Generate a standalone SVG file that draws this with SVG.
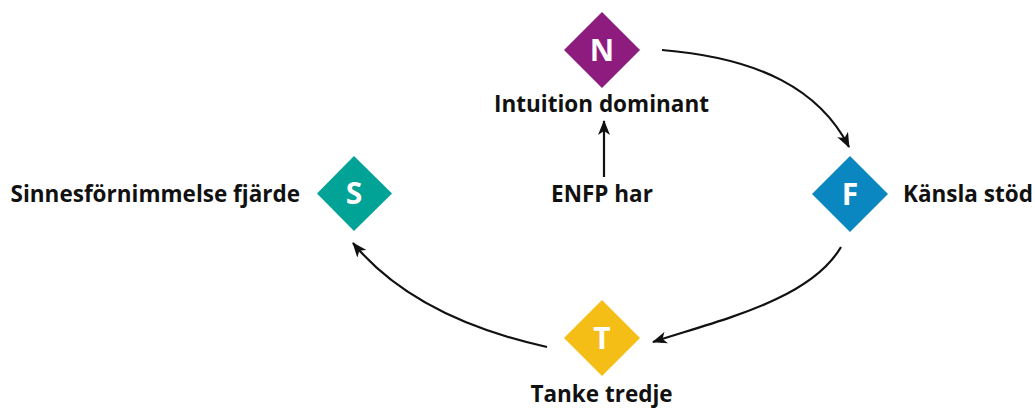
<svg xmlns="http://www.w3.org/2000/svg" width="1035" height="408" viewBox="0 0 1035 408">
<style>
.lbl{font-family:"Open Sans","Liberation Sans",sans-serif;font-weight:700;font-size:22.5px;fill:#111}
.let{font-family:"Open Sans","Liberation Sans",sans-serif;font-weight:700;font-size:30px;fill:#fff;text-anchor:middle}
.con{fill:none;stroke:#111;stroke-width:2.2}
</style>
<defs>
<marker id="ah" viewBox="0 0 15 12" refX="14" refY="6" markerWidth="15" markerHeight="12" markerUnits="userSpaceOnUse" orient="auto">
<path d="M0,0 L15,6 L0,12 L4,6 Z" fill="#111"/>
</marker>
</defs>
<rect width="1035" height="408" fill="#fff"/>
<g id="connectors">
<path class="con" d="M662,50 C760,58 820,90 849,147" marker-end="url(#ah)"/>
<path class="con" d="M841,247 C810,300 720,320 653,342" marker-end="url(#ah)"/>
<path class="con" d="M547,347 C470,330 400,300 353,243" marker-end="url(#ah)"/>
<path class="con" d="M604,177 L604,121" marker-end="url(#ah)"/>
</g>
<g id="node-N">
<polygon points="602,12 640,50 602,88 564,50" fill="#8E1B7E"/>
<text class="let" x="602" y="61">N</text>
<text class="lbl" x="601.5" y="112" text-anchor="middle">Intuition dominant</text>
</g>
<g id="node-F">
<polygon points="850,156 888,194 850,232 812,194" fill="#0A87C0"/>
<text class="let" x="850" y="205">F</text>
<text class="lbl" x="903" y="202">Känsla stöd</text>
</g>
<g id="node-S">
<polygon points="354,156 392,193.5 354,231 317,193.5" fill="#00A395"/>
<text class="let" x="354" y="204">S</text>
<text class="lbl" x="300" y="202" text-anchor="end">Sinnesförnimmelse fjärde</text>
</g>
<g id="node-T">
<polygon points="602,300 640,338 602,376 564,338" fill="#F5BE17"/>
<text class="let" x="602" y="349">T</text>
<text class="lbl" x="601.5" y="402" text-anchor="middle">Tanke tredje</text>
</g>
<g id="node-ENFP">
<text class="lbl" x="602" y="202" text-anchor="middle">ENFP har</text>
</g>
</svg>
